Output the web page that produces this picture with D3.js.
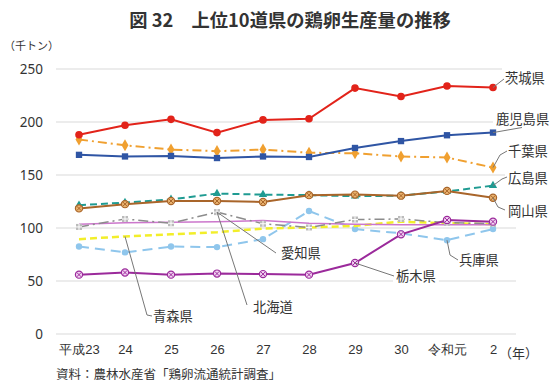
<!DOCTYPE html>
<html><head><meta charset="utf-8">
<script src="https://cdn.jsdelivr.net/npm/d3@7"></script>
<style>
html,body{margin:0;padding:0;background:#fff;}
svg{display:block;font-family:"Noto Sans CJK JP","Noto Sans",sans-serif;}
</style></head>
<body><svg id="c" width="558" height="391"></svg>
<script>
const years = ["平成23","24","25","26","27","28","29","30","令和元","2"];
const yTicks = [0,50,100,150,200,250];
const ibaraki   = [188,197,202.5,190,202,203,232,224,234,232.5];
const kagoshima = [169,167.5,168,166,167.5,167,175.5,182,187.5,190];
const chiba     = [183.5,178,174,172.5,174,171,170.5,167.5,166.5,157];
const hiroshima = [121.5,124,127,132.5,131.5,131,130,130.5,134.5,140];
const okayama   = [118.5,122.5,125.5,125.5,124.5,131,131.5,130.5,135,128.5];
const aichi     = [101,108.5,104.5,115,104,100.5,108,108.5,105,104];
const hokkaido  = [103.5,105,105.5,106,107,104.5,103.5,103,103,103];
const aomori    = [89.5,92,94,96,99.5,100.5,102,106,104.5,103.5];
const hyogo     = [82.5,77,82.5,82,89.5,116,99,95,88.5,99];
const tochigi   = [56,58,56,57,56.5,56,67,94,107.5,106];

const svg = d3.select("#c");
const x = d3.scalePoint().domain(years).range([79,493]);
const y = d3.scaleLinear().domain([0,250]).range([334,69]);

// title
svg.append("text").attr("x",290).attr("y",27).attr("text-anchor","middle")
  .attr("font-size",18.3).attr("font-weight","bold").attr("fill","#333")
  .text("図 32　上位10道県の鶏卵生産量の推移");
svg.append("text").attr("x",4).attr("y",50).attr("font-size",11).attr("fill","#333").text("（千トン）");

// grid
const g = svg.append("g");
yTicks.forEach(t=>{
  g.append("line").attr("x1",56).attr("x2",516).attr("y1",y(t)).attr("y2",y(t))
    .attr("stroke","#d9d9d9").attr("stroke-width",1);
});
const yAxis = d3.axisLeft(y).tickValues(yTicks).tickSize(0).tickPadding(0);
const ya = svg.append("g").attr("transform","translate(43,0)").call(yAxis);
ya.select(".domain").remove();
ya.selectAll("text").attr("font-size",13.5).attr("fill","#333").attr("font-family","'Noto Sans','Noto Sans CJK JP',sans-serif");

const xAxis = d3.axisBottom(x).tickSize(0).tickPadding(0);
const xa = svg.append("g").attr("transform","translate(0,345)").call(xAxis);
xa.select(".domain").remove();
xa.selectAll("text").attr("font-size",13).attr("fill","#333").attr("dy","0.71em");
svg.append("text").attr("x",499).attr("y",358).attr("font-size",13).attr("fill","#333").text("（年）");

svg.append("text").attr("x",56).attr("y",379).attr("font-size",12.5).attr("fill","#333")
  .text("資料：農林水産省「鶏卵流通統計調査」");

const series = [
  {name:"兵庫県", v:hyogo, color:"#8fc6ec", w:2, dash:"10,6", marker:"circle", r:3.2, fill:"#8fc6ec"},
  {name:"青森県", v:aomori, color:"#f2ee2a", w:2.5, dash:"7,4", marker:null},
  {name:"北海道", v:hokkaido, color:"#cc77cc", w:1.5, dash:null, marker:null},
  {name:"愛知県", v:aichi, color:"#8c8c8c", w:1.5, dash:"10,4,2,4", marker:"grid"},
  {name:"広島県", v:hiroshima, color:"#1f9b92", w:2, dash:"7,4", marker:"triangle"},
  {name:"岡山県", v:okayama, color:"#a9652a", w:2, dash:null, marker:"xcircle", fill:"#eab36f"},
  {name:"千葉県", v:chiba, color:"#f0a030", w:2, dash:"9,4,2,4", marker:"diamond"},
  {name:"鹿児島県", v:kagoshima, color:"#2f55a4", w:2, dash:null, marker:"square"},
  {name:"茨城県", v:ibaraki, color:"#e2231a", w:2, dash:null, marker:"circle", r:3.8, fill:"#e2231a"},
  {name:"栃木県", v:tochigi, color:"#9b2a9b", w:2, dash:null, marker:"xcircle", fill:"#f3d3f3"}
];

const line = d3.line().x((d,i)=>x(years[i])).y(d=>y(d));
series.forEach(s=>{
  const sg = svg.append("g");
  sg.append("path").attr("d",line(s.v)).attr("fill","none").attr("stroke",s.color)
    .attr("stroke-width",s.w).attr("stroke-dasharray",s.dash);
  if(!s.marker) return;
  s.v.forEach((d,i)=>{
    const cx = x(years[i]), cy = y(d);
    const mg = sg.append("g").attr("transform",`translate(${cx},${cy})`);
    if(s.marker==="circle"){
      mg.append("circle").attr("r",s.r).attr("fill",s.fill);
    } else if(s.marker==="square"){
      mg.append("path").attr("d",d3.symbol(d3.symbolSquare,40)()).attr("fill",s.color);
    } else if(s.marker==="diamond"){
      mg.append("path").attr("d",d3.symbol(d3.symbolDiamond,42)()).attr("fill",s.color);
    } else if(s.marker==="triangle"){
      mg.append("path").attr("d",d3.symbol(d3.symbolTriangle,30)()).attr("fill",s.color);
    } else if(s.marker==="xcircle"){
      mg.append("circle").attr("r",3.6).attr("fill",s.fill).attr("stroke",s.color).attr("stroke-width",1.2);
      mg.append("path").attr("d","M-2.2,-2.2L2.2,2.2M-2.2,2.2L2.2,-2.2").attr("stroke",s.color).attr("stroke-width",1);
    } else if(s.marker==="grid"){
      mg.append("rect").attr("x",-3).attr("y",-3).attr("width",6).attr("height",6).attr("fill","#bbb");
      mg.append("path").attr("d","M-3,0H3M0,-3V3").attr("stroke","#fff").attr("stroke-width",1);
    }
  });
});

// labels with leader lines
const labels = [
  {name:"茨城県", s:ibaraki, i:9, tx:505, ty:78, pts:[[500,82],[504,79]]},
  {name:"鹿児島県", s:kagoshima, i:9, tx:496, ty:119, pts:[[522,127.5]]},
  {name:"千葉県", s:chiba, i:9, tx:508, ty:151, pts:[[500,155],[507,151]]},
  {name:"広島県", s:hiroshima, i:9, tx:508, ty:178, pts:[[502,179],[507,177]]},
  {name:"岡山県", s:okayama, i:9, tx:508, ty:211, pts:[[498,207],[505,210]]},
  {name:"兵庫県", s:hyogo, i:8, tx:459, ty:260, pts:[[450,255],[458,260]]},
  {name:"栃木県", s:tochigi, i:6, tx:396, ty:276, pts:[[394,276]]},
  {name:"愛知県", s:aichi, i:3, tx:281, ty:253, pts:[[276,253]]},
  {name:"北海道", s:aichi, i:3, tx:253, ty:307, pts:[[247,305]]},
  {name:"青森県", s:aomori, i:1, tx:153, ty:316, pts:[[147,315],[152,316]]}
];
labels.forEach(l=>{
  const start = [x(years[l.i]), y(l.s[l.i])];
  const t = svg.append("text").attr("x",l.tx).attr("y",l.ty).attr("dy","0.35em")
    .attr("font-size",13.3).attr("fill","#333").text(l.name);
  const bb = t.node().getBBox();
  svg.insert("rect", function(){return t.node();})
    .attr("x",bb.x-3).attr("y",bb.y-1).attr("width",bb.width+6).attr("height",bb.height+2).attr("fill","#fff");
  svg.append("path").attr("d",d3.line()([start].concat(l.pts))).attr("fill","none")
    .attr("stroke","#777").attr("stroke-width",1);
  t.raise();
});
</script></body></html>
